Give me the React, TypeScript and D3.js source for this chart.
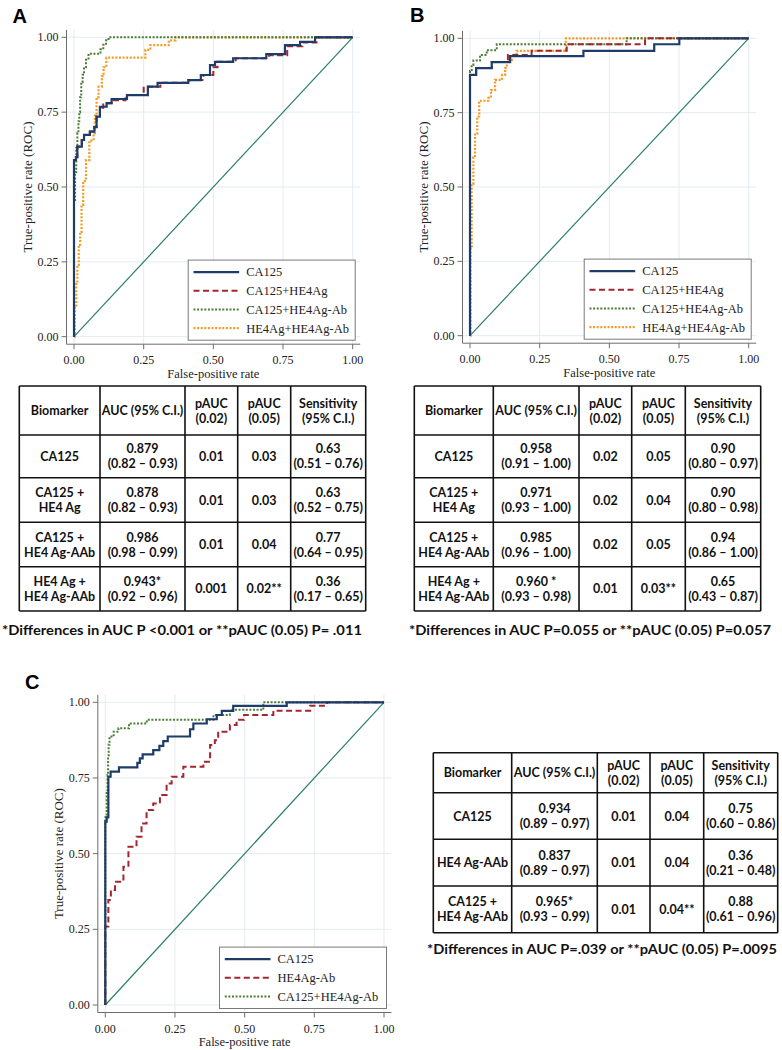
import React from 'react';
import * as d3 from 'd3';

type Pt = [number, number];

const tickValues = [0, 0.25, 0.5, 0.75, 1];
const tickLabels = ['0.00', '0.25', '0.50', '0.75', '1.00'];

// Panel A curves (false-positive rate, true-positive rate)
const aCA125: Pt[] = [[0,0],[0,0.59],[0.007,0.60],[0.012,0.635],[0.028,0.657],[0.036,0.674],[0.057,0.685],[0.073,0.70],[0.081,0.735],[0.093,0.768],[0.117,0.78],[0.135,0.794],[0.19,0.807],[0.265,0.835],[0.30,0.848],[0.41,0.857],[0.455,0.874],[0.488,0.907],[0.506,0.918],[0.571,0.93],[0.69,0.944],[0.757,0.974],[0.811,0.985],[0.865,1],[1,1]];
const aCA125HE4Ag: Pt[] = [[0,0],[0,0.59],[0.007,0.60],[0.012,0.635],[0.028,0.657],[0.036,0.674],[0.057,0.685],[0.073,0.70],[0.081,0.74],[0.093,0.765],[0.105,0.78],[0.14,0.79],[0.185,0.807],[0.25,0.835],[0.31,0.848],[0.414,0.857],[0.465,0.874],[0.50,0.90],[0.515,0.918],[0.58,0.93],[0.70,0.94],[0.765,0.97],[0.82,0.983],[0.87,1],[1,1]];
const aCA125Ab: Pt[] = [[0,0],[0,0.45],[0.004,0.55],[0.008,0.63],[0.012,0.68],[0.016,0.72],[0.019,0.75],[0.022,0.80],[0.026,0.85],[0.031,0.875],[0.036,0.90],[0.043,0.925],[0.052,0.945],[0.095,0.96],[0.105,0.975],[0.115,0.99],[0.124,1],[1,1]];
const aHE4AgAb: Pt[] = [[0,0],[0.003,0.10],[0.008,0.18],[0.012,0.24],[0.017,0.30],[0.022,0.35],[0.027,0.44],[0.033,0.52],[0.043,0.59],[0.055,0.655],[0.07,0.68],[0.075,0.745],[0.081,0.80],[0.088,0.835],[0.10,0.87],[0.106,0.90],[0.116,0.932],[0.256,0.958],[0.274,0.974],[0.34,0.99],[0.364,1],[1,1]];

// Panel B curves
const bCA125: Pt[] = [[0,0],[0,0.877],[0.022,0.90],[0.078,0.92],[0.144,0.94],[0.407,0.958],[0.661,0.98],[0.751,1],[1,1]];
const bCA125HE4Ag: Pt[] = [[0,0],[0,0.877],[0.022,0.90],[0.078,0.92],[0.136,0.944],[0.221,0.958],[0.347,0.98],[0.628,1],[1,1]];
const bCA125Ab: Pt[] = [[0,0],[0,0.89],[0.006,0.91],[0.012,0.925],[0.036,0.944],[0.06,0.96],[0.096,0.98],[0.562,1],[1,1]];
const bHE4AgAb: Pt[] = [[0,0],[0.002,0.30],[0.006,0.51],[0.012,0.60],[0.018,0.68],[0.026,0.737],[0.033,0.79],[0.066,0.80],[0.075,0.826],[0.09,0.86],[0.115,0.877],[0.126,0.90],[0.132,0.927],[0.15,0.944],[0.167,0.958],[0.344,1],[1,1]];

// Panel C curves
const cCA125: Pt[] = [[0,0],[0,0.606],[0.005,0.62],[0.011,0.754],[0.019,0.771],[0.049,0.785],[0.115,0.80],[0.124,0.815],[0.134,0.828],[0.172,0.842],[0.194,0.856],[0.208,0.872],[0.224,0.887],[0.304,0.911],[0.316,0.93],[0.364,0.944],[0.40,0.958],[0.418,0.972],[0.459,0.988],[0.651,1],[1,1]];
const cHE4AgAb: Pt[] = [[0,0],[0,0.259],[0.011,0.347],[0.02,0.38],[0.035,0.407],[0.065,0.457],[0.083,0.523],[0.112,0.556],[0.13,0.60],[0.148,0.644],[0.172,0.666],[0.196,0.694],[0.22,0.732],[0.238,0.754],[0.28,0.787],[0.352,0.804],[0.376,0.859],[0.393,0.875],[0.405,0.903],[0.447,0.925],[0.471,0.942],[0.498,0.958],[0.603,0.972],[0.735,0.989],[0.795,1],[1,1]];
const cCA125Ab: Pt[] = [[0,0],[0,0.62],[0.005,0.70],[0.008,0.76],[0.01,0.82],[0.012,0.86],[0.015,0.887],[0.03,0.903],[0.047,0.914],[0.085,0.93],[0.149,0.942],[0.388,0.958],[0.447,0.975],[0.567,1],[1,1]];

// Tables
const headerCells = [['Biomarker'], ['AUC (95% C.I.)'], ['pAUC', '(0.02)'], ['pAUC', '(0.05)'], ['Sensitivity', '(95% C.I.)']];
const tableA: string[][][] = [
  [['CA125'], ['0.879', '(0.82 – 0.93)'], ['0.01'], ['0.03'], ['0.63', '(0.51 – 0.76)']],
  [['CA125 +', 'HE4 Ag'], ['0.878', '(0.82 – 0.93)'], ['0.01'], ['0.03'], ['0.63', '(0.52 – 0.75)']],
  [['CA125 +', 'HE4 Ag-AAb'], ['0.986', '(0.98 – 0.99)'], ['0.01'], ['0.04'], ['0.77', '(0.64 – 0.95)']],
  [['HE4 Ag +', 'HE4 Ag-AAb'], ['0.943*', '(0.92 – 0.96)'], ['0.001'], ['0.02**'], ['0.36', '(0.17 – 0.65)']],
];
const tableB: string[][][] = [
  [['CA125'], ['0.958', '(0.91 – 1.00)'], ['0.02'], ['0.05'], ['0.90', '(0.80 – 0.97)']],
  [['CA125 +', 'HE4 Ag'], ['0.971', '(0.93 – 1.00)'], ['0.02'], ['0.04'], ['0.90', '(0.80 – 0.98)']],
  [['CA125 +', 'HE4 Ag-AAb'], ['0.985', '(0.96 – 1.00)'], ['0.02'], ['0.05'], ['0.94', '(0.86 – 1.00)']],
  [['HE4 Ag +', 'HE4 Ag-AAb'], ['0.960 *', '(0.93 – 0.98)'], ['0.01'], ['0.03**'], ['0.65', '(0.43 – 0.87)']],
];
const tableC: string[][][] = [
  [['CA125'], ['0.934', '(0.89 – 0.97)'], ['0.01'], ['0.04'], ['0.75', '(0.60 – 0.86)']],
  [['HE4 Ag-AAb'], ['0.837', '(0.89 – 0.97)'], ['0.01'], ['0.04'], ['0.36', '(0.21 – 0.48)']],
  [['CA125 +', 'HE4 Ag-AAb'], ['0.965*', '(0.93 – 0.99)'], ['0.01'], ['0.04**'], ['0.88', '(0.61 – 0.96)']],
];
const footA = '*Differences in AUC P <0.001 or **pAUC (0.05) P= .011';
const footB = '*Differences in AUC P=0.055 or **pAUC (0.05) P=0.057';
const footC = '*Differences in AUC P=.039 or **pAUC (0.05) P=.0095';

const STYLES: Record<string, { color: string; width: number; dash?: string }> = {
  CA125: { color: '#1d3c69', width: 2.2 },
  red: { color: '#a3262e', width: 2, dash: '6 3.5' },
  green: { color: '#4c7d35', width: 2, dash: '2 1.6' },
  orange: { color: '#f39a22', width: 2.2, dash: '2 1.6' },
};

const SERIF = '"Liberation Serif", "Times New Roman", serif';
const SANS = 'Lato, "Open Sans", sans-serif';

type Series = { name: string; data: Pt[]; style: string };

function Panel(props: {
  letter: string; lx: number; ly: number;
  x0: number; x1: number; y0: number; y1: number;
  series: Series[];
}) {
  const { letter, lx, ly, x0, x1, y0, y1, series } = props;
  const pad = 7.5;
  const xs = d3.scaleLinear().domain([0, 1]).range([x0, x1]);
  const ys = d3.scaleLinear().domain([0, 1]).range([y0, y1]);
  const left = x0 - pad, right = x1 + pad, top = y1 - pad, bottom = y0 + pad;
  const line = d3.line<Pt>().x(d => xs(d[0])).y(d => ys(d[1])).curve(d3.curveStepAfter);
  const diag = d3.line<Pt>().x(d => xs(d[0])).y(d => ys(d[1]));
  const n = series.length;
  const lw = 167, step = 18.7;
  const lh = 24 + (n - 1) * step;
  const lxBox = right - 5 - lw, lyBox = bottom - 4 - lh;
  return (
    <g>
      <text x={lx} y={ly} fontFamily='"Liberation Sans", Arial, sans-serif' fontWeight="bold" fontSize={20}>{letter}</text>
      {tickValues.map((t, i) => (
        <g key={'g' + i}>
          <line x1={xs(t)} x2={xs(t)} y1={top} y2={bottom} stroke="#e4ebf0" strokeWidth={1} />
          <line x1={left} x2={right} y1={ys(t)} y2={ys(t)} stroke="#e4ebf0" strokeWidth={1} />
        </g>
      ))}
      <path d={diag([[0, 0], [1, 1]]) || ''} stroke="#2b7d6c" strokeWidth={1.2} fill="none" />
      {series.slice().reverse().map((s, i) => {
        const st = STYLES[s.style];
        return <path key={i} d={line(s.data) || ''} fill="none" stroke={st.color} strokeWidth={st.width} strokeDasharray={st.dash} />;
      })}
      <line x1={left} x2={left} y1={top} y2={bottom} stroke="#6d6d6d" strokeWidth={1} />
      <line x1={left} x2={right} y1={bottom} y2={bottom} stroke="#6d6d6d" strokeWidth={1} />
      {tickValues.map((t, i) => (
        <g key={'t' + i}>
          <line x1={left - 5} x2={left} y1={ys(t)} y2={ys(t)} stroke="#6d6d6d" />
          <text x={left - 8} y={ys(t) + 4} textAnchor="end" fontFamily={SERIF} fontSize={12} fill="#222">{tickLabels[i]}</text>
          <line x1={xs(t)} x2={xs(t)} y1={bottom} y2={bottom + 5} stroke="#6d6d6d" />
          <text x={xs(t)} y={bottom + 20} textAnchor="middle" fontFamily={SERIF} fontSize={12} fill="#222">{tickLabels[i]}</text>
        </g>
      ))}
      <text x={(left + right) / 2} y={bottom + 33.5} textAnchor="middle" fontFamily={SERIF} fontSize={12.5} fill="#222">False-positive rate</text>
      <text transform={`translate(${left - 35},${(top + bottom) / 2}) rotate(-90)`} textAnchor="middle" fontFamily={SERIF} fontSize={13} fill="#222">True-positive rate (ROC)</text>
      <rect x={lxBox} y={lyBox} width={lw} height={lh} fill="#fff" stroke="#7a7a7a" strokeWidth={1} />
      {series.map((s, i) => {
        const st = STYLES[s.style];
        const yy = lyBox + 12 + i * step;
        return (
          <g key={'l' + i}>
            <line x1={lxBox + 5.3} x2={lxBox + 51} y1={yy} y2={yy} stroke={st.color} strokeWidth={st.width} strokeDasharray={st.dash} />
            <text x={lxBox + 58} y={yy + 4.3} fontFamily={SERIF} fontSize={12.5} fill="#222">{s.name}</text>
          </g>
        );
      })}
    </g>
  );
}

function Table(props: { cols: number[]; rows: number[]; data: string[][][]; foot: string; footX: number; footY: number; footW: number }) {
  const { cols, rows, data, foot, footX, footY, footW } = props;
  const all = [headerCells, ...data];
  const fs = 12.5;
  return (
    <g fontFamily={SANS} fontWeight="bold" fill="#111">
      {all.map((row, r) => row.map((cell, c) => {
        const cx = (cols[c] + cols[c + 1]) / 2;
        const cy = (rows[r] + rows[r + 1]) / 2;
        const n = cell.length;
        return cell.map((txt, k) => (
          <text key={`${r}-${c}-${k}`} x={cx} y={cy + (k - (n - 1) / 2) * 15 + fs * 0.36} textAnchor="middle" fontSize={fs}>{txt}</text>
        ));
      }))}
      {rows.map((y, i) => <line key={'r' + i} x1={cols[0]} x2={cols[cols.length - 1]} y1={y} y2={y} stroke="#111" strokeWidth={1.6} />)}
      {cols.map((x, i) => <line key={'c' + i} x1={x} x2={x} y1={rows[0]} y2={rows[rows.length - 1]} stroke="#111" strokeWidth={1.6} />)}
      <text x={footX} y={footY + 5} fontSize={14} textLength={footW} lengthAdjust="spacingAndGlyphs">{foot}</text>
    </g>
  );
}

export default function App() {
  return (
    <svg width={782} height={1050} style={{ position: 'absolute', left: 0, top: 0, background: '#fff' }}>
      <rect x={0} y={0} width={782} height={1050} fill="#fff" />
      <Panel letter="A" lx={12.5} ly={22.7} x0={74} x1={352.7} y0={336.7} y1={37.3}
        series={[
          { name: 'CA125', data: aCA125, style: 'CA125' },
          { name: 'CA125+HE4Ag', data: aCA125HE4Ag, style: 'red' },
          { name: 'CA125+HE4Ag-Ab', data: aCA125Ab, style: 'green' },
          { name: 'HE4Ag+HE4Ag-Ab', data: aHE4AgAb, style: 'orange' },
        ]} />
      <Panel letter="B" lx={410} ly={21.7} x0={470} x1={748.7} y0={335.7} y1={38.3}
        series={[
          { name: 'CA125', data: bCA125, style: 'CA125' },
          { name: 'CA125+HE4Ag', data: bCA125HE4Ag, style: 'red' },
          { name: 'CA125+HE4Ag-Ab', data: bCA125Ab, style: 'green' },
          { name: 'HE4Ag+HE4Ag-Ab', data: bHE4AgAb, style: 'orange' },
        ]} />
      <Panel letter="C" lx={25} ly={689.3} x0={105.3} x1={384} y0={1005} y1={702.3}
        series={[
          { name: 'CA125', data: cCA125, style: 'CA125' },
          { name: 'HE4Ag-Ab', data: cHE4AgAb, style: 'red' },
          { name: 'CA125+HE4Ag-Ab', data: cCA125Ab, style: 'green' },
        ]} />
      <Table cols={[19.3, 100, 185, 237.7, 290.7, 365.7]} rows={[386, 435, 477.7, 522.3, 566.7, 611]} data={tableA}
        foot={footA} footX={2} footY={630} footW={360} />
      <Table cols={[414.3, 493.3, 579, 631.7, 685.3, 760.7]} rows={[386, 435, 477.7, 522.3, 566.7, 611]} data={tableB}
        foot={footB} footX={409} footY={630} footW={362} />
      <Table cols={[433.3, 511.7, 597.3, 650, 703.7, 777.7]} rows={[752.7, 792.7, 839.3, 886, 932.7]} data={tableC}
        foot={footC} footX={427} footY={949.3} footW={350} />
    </svg>
  );
}
